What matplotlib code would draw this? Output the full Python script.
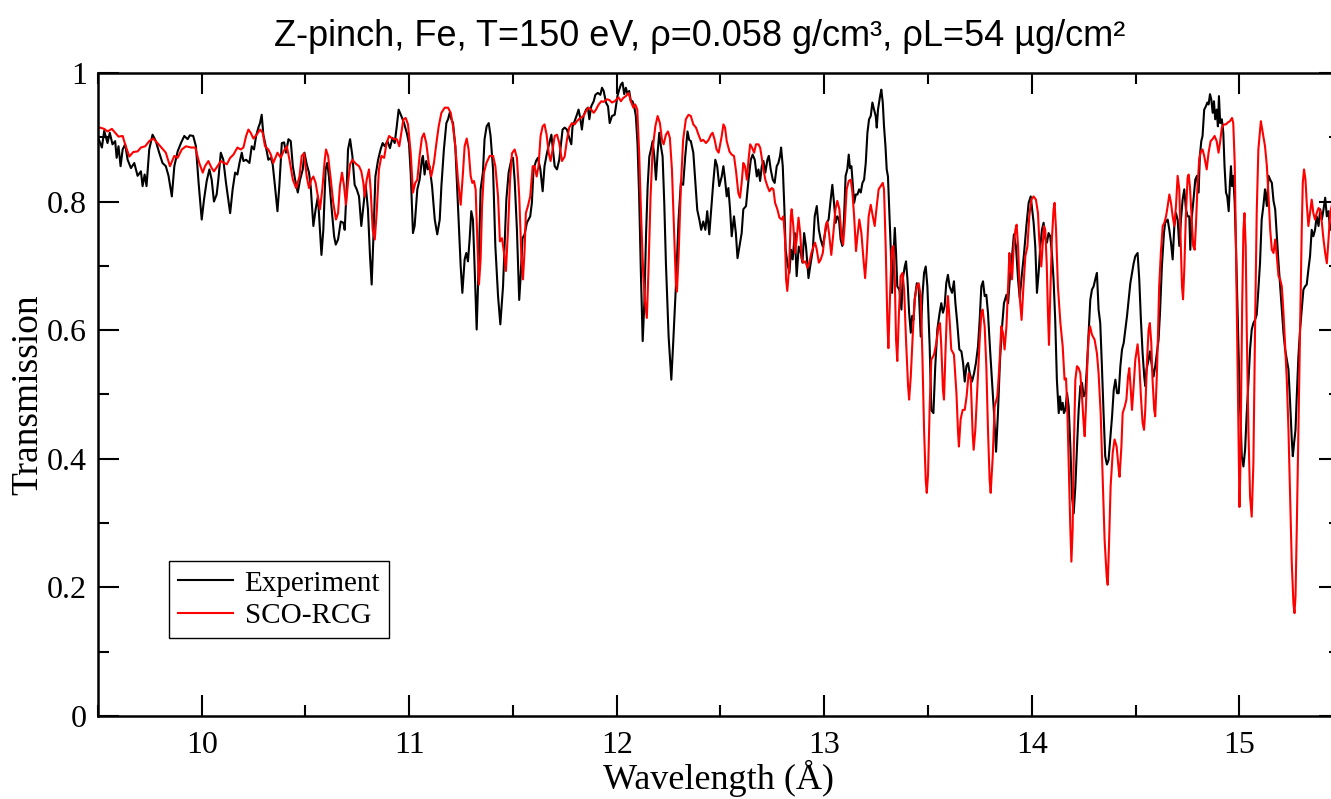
import numpy as np
import matplotlib.pyplot as plt
from matplotlib.ticker import MultipleLocator, FixedLocator, FixedFormatter

# measured transmission, (wavelength in A, transmission)
experiment = [
    (9.500, 0.900), (9.519, 0.884), (9.530, 0.910), (9.546, 0.891), (9.557, 0.907),
    (9.570, 0.889), (9.583, 0.894), (9.590, 0.868), (9.599, 0.886), (9.609, 0.855),
    (9.619, 0.881), (9.631, 0.889), (9.643, 0.865), (9.659, 0.852), (9.675, 0.860),
    (9.691, 0.840), (9.707, 0.847), (9.715, 0.824), (9.725, 0.842), (9.734, 0.824),
    (9.747, 0.881), (9.763, 0.904), (9.779, 0.894), (9.795, 0.876), (9.811, 0.860),
    (9.827, 0.855), (9.840, 0.840), (9.856, 0.808), (9.868, 0.855), (9.884, 0.878),
    (9.900, 0.891), (9.916, 0.902), (9.932, 0.897), (9.943, 0.903), (9.959, 0.902),
    (9.972, 0.886), (9.985, 0.829), (10.000, 0.772), (10.011, 0.803), (10.024, 0.832),
    (10.037, 0.850), (10.048, 0.834), (10.059, 0.800), (10.072, 0.811), (10.080, 0.834),
    (10.092, 0.876), (10.104, 0.865), (10.117, 0.829), (10.137, 0.782), (10.149, 0.819),
    (10.161, 0.845), (10.172, 0.842), (10.182, 0.860), (10.193, 0.876), (10.201, 0.863),
    (10.214, 0.865), (10.230, 0.860), (10.241, 0.886), (10.252, 0.881), (10.262, 0.902),
    (10.273, 0.915), (10.281, 0.922), (10.289, 0.935), (10.297, 0.904), (10.310, 0.884),
    (10.321, 0.865), (10.333, 0.868), (10.342, 0.858), (10.353, 0.824), (10.365, 0.785),
    (10.374, 0.824), (10.386, 0.891), (10.397, 0.892), (10.406, 0.876), (10.418, 0.897),
    (10.429, 0.894), (10.439, 0.855), (10.450, 0.834), (10.463, 0.814), (10.474, 0.834),
    (10.487, 0.850), (10.495, 0.876), (10.506, 0.858), (10.517, 0.845), (10.525, 0.824),
    (10.538, 0.762), (10.549, 0.788), (10.560, 0.808), (10.570, 0.756), (10.577, 0.717),
    (10.586, 0.756), (10.597, 0.850), (10.605, 0.860), (10.613, 0.839), (10.625, 0.793),
    (10.638, 0.746), (10.646, 0.733), (10.657, 0.741), (10.670, 0.769), (10.683, 0.767),
    (10.689, 0.756), (10.699, 0.824), (10.705, 0.881), (10.715, 0.897), (10.726, 0.871),
    (10.737, 0.826), (10.747, 0.819), (10.758, 0.808), (10.769, 0.762), (10.779, 0.793),
    (10.790, 0.826), (10.801, 0.788), (10.811, 0.715), (10.819, 0.671), (10.827, 0.741),
    (10.837, 0.839), (10.850, 0.865), (10.862, 0.881), (10.872, 0.891), (10.882, 0.886),
    (10.895, 0.894), (10.907, 0.883), (10.919, 0.899), (10.930, 0.891), (10.940, 0.917),
    (10.949, 0.943), (10.962, 0.933), (10.975, 0.922), (10.988, 0.907), (10.999, 0.890),
    (11.007, 0.845), (11.018, 0.751), (11.026, 0.762), (11.039, 0.819), (11.050, 0.834),
    (11.061, 0.865), (11.066, 0.871), (11.074, 0.842), (11.082, 0.863), (11.090, 0.850),
    (11.098, 0.855), (11.110, 0.824), (11.123, 0.772), (11.135, 0.749), (11.147, 0.772),
    (11.155, 0.824), (11.167, 0.881), (11.179, 0.922), (11.187, 0.928), (11.195, 0.938),
    (11.203, 0.928), (11.211, 0.922), (11.222, 0.886), (11.235, 0.793), (11.248, 0.699),
    (11.256, 0.658), (11.267, 0.710), (11.275, 0.720), (11.283, 0.707), (11.291, 0.741),
    (11.299, 0.785), (11.307, 0.772), (11.315, 0.699), (11.325, 0.601), (11.335, 0.705),
    (11.344, 0.819), (11.355, 0.845), (11.363, 0.897), (11.373, 0.917), (11.383, 0.922),
    (11.392, 0.902), (11.404, 0.850), (11.415, 0.731), (11.428, 0.653), (11.439, 0.609),
    (11.452, 0.668), (11.468, 0.803), (11.479, 0.845), (11.492, 0.865), (11.500, 0.868),
    (11.508, 0.834), (11.519, 0.756), (11.527, 0.673), (11.530, 0.647), (11.537, 0.684),
    (11.546, 0.743), (11.556, 0.749), (11.567, 0.767), (11.575, 0.772), (11.583, 0.777),
    (11.591, 0.798), (11.599, 0.850), (11.611, 0.863), (11.620, 0.868), (11.632, 0.850),
    (11.643, 0.816), (11.652, 0.855), (11.664, 0.876), (11.675, 0.891), (11.685, 0.904),
    (11.691, 0.886), (11.701, 0.855), (11.712, 0.850), (11.723, 0.865), (11.733, 0.894),
    (11.739, 0.912), (11.749, 0.915), (11.760, 0.912), (11.771, 0.899), (11.781, 0.889),
    (11.787, 0.917), (11.797, 0.925), (11.808, 0.935), (11.816, 0.943), (11.824, 0.930),
    (11.832, 0.912), (11.840, 0.933), (11.852, 0.943), (11.861, 0.946), (11.868, 0.928),
    (11.877, 0.948), (11.889, 0.956), (11.897, 0.966), (11.909, 0.969), (11.921, 0.966),
    (11.929, 0.977), (11.937, 0.972), (11.948, 0.954), (11.958, 0.948), (11.966, 0.922),
    (11.977, 0.933), (11.990, 0.935), (12.004, 0.965), (12.012, 0.974), (12.020, 0.982),
    (12.028, 0.985), (12.036, 0.967), (12.044, 0.977), (12.052, 0.967), (12.060, 0.972),
    (12.068, 0.956), (12.076, 0.956), (12.084, 0.948), (12.092, 0.933), (12.100, 0.891),
    (12.108, 0.808), (12.116, 0.694), (12.125, 0.583), (12.133, 0.642), (12.141, 0.746),
    (12.149, 0.824), (12.157, 0.870), (12.165, 0.881), (12.173, 0.894), (12.181, 0.870),
    (12.189, 0.834), (12.197, 0.876), (12.205, 0.907), (12.213, 0.886), (12.221, 0.870),
    (12.229, 0.798), (12.237, 0.704), (12.250, 0.590), (12.263, 0.523), (12.272, 0.580),
    (12.285, 0.668), (12.298, 0.772), (12.309, 0.829), (12.320, 0.826), (12.330, 0.870),
    (12.341, 0.909), (12.349, 0.896), (12.357, 0.894), (12.369, 0.876), (12.378, 0.834),
    (12.388, 0.787), (12.398, 0.772), (12.407, 0.756), (12.417, 0.769), (12.427, 0.756),
    (12.436, 0.785), (12.446, 0.749), (12.455, 0.787), (12.465, 0.829), (12.475, 0.865),
    (12.484, 0.855), (12.494, 0.824), (12.506, 0.839), (12.514, 0.855), (12.522, 0.834),
    (12.530, 0.808), (12.538, 0.821), (12.546, 0.788), (12.554, 0.746), (12.565, 0.777),
    (12.574, 0.751), (12.582, 0.712), (12.591, 0.730), (12.602, 0.751), (12.610, 0.788),
    (12.623, 0.793), (12.635, 0.834), (12.646, 0.865), (12.655, 0.873), (12.665, 0.865),
    (12.675, 0.839), (12.683, 0.850), (12.691, 0.832), (12.699, 0.855), (12.707, 0.863),
    (12.716, 0.845), (12.726, 0.865), (12.733, 0.871), (12.742, 0.850), (12.752, 0.834),
    (12.761, 0.829), (12.771, 0.855), (12.779, 0.860), (12.787, 0.871), (12.792, 0.884),
    (12.800, 0.855), (12.808, 0.788), (12.814, 0.725), (12.822, 0.705), (12.832, 0.689),
    (12.840, 0.725), (12.848, 0.710), (12.858, 0.751), (12.867, 0.684), (12.877, 0.730),
    (12.887, 0.720), (12.895, 0.705), (12.903, 0.751), (12.912, 0.730), (12.924, 0.681),
    (12.935, 0.705), (12.945, 0.725), (12.954, 0.777), (12.964, 0.793), (12.974, 0.756),
    (12.983, 0.741), (12.993, 0.730), (13.012, 0.767), (13.021, 0.772), (13.031, 0.803),
    (13.039, 0.826), (13.047, 0.798), (13.055, 0.767), (13.063, 0.777), (13.071, 0.772),
    (13.079, 0.741), (13.087, 0.731), (13.095, 0.772), (13.103, 0.840), (13.111, 0.850),
    (13.118, 0.873), (13.124, 0.852), (13.131, 0.855), (13.137, 0.829), (13.144, 0.798),
    (13.152, 0.811), (13.160, 0.811), (13.168, 0.819), (13.176, 0.814), (13.184, 0.829),
    (13.192, 0.834), (13.200, 0.860), (13.208, 0.907), (13.216, 0.928), (13.224, 0.933),
    (13.232, 0.954), (13.240, 0.943), (13.248, 0.933), (13.253, 0.915), (13.259, 0.943),
    (13.269, 0.964), (13.275, 0.974), (13.282, 0.954), (13.288, 0.917), (13.295, 0.886),
    (13.301, 0.850), (13.307, 0.839), (13.314, 0.782), (13.320, 0.731), (13.327, 0.658),
    (13.333, 0.710), (13.340, 0.759), (13.346, 0.720), (13.352, 0.668), (13.362, 0.663),
    (13.372, 0.632), (13.378, 0.679), (13.388, 0.699), (13.394, 0.707), (13.401, 0.679),
    (13.409, 0.627), (13.417, 0.596), (13.423, 0.622), (13.430, 0.616), (13.436, 0.648),
    (13.446, 0.673), (13.455, 0.668), (13.465, 0.590), (13.473, 0.653), (13.481, 0.689),
    (13.489, 0.699), (13.497, 0.668), (13.508, 0.575), (13.516, 0.476), (13.526, 0.471),
    (13.535, 0.544), (13.545, 0.601), (13.556, 0.627), (13.564, 0.642), (13.572, 0.627),
    (13.580, 0.637), (13.588, 0.673), (13.596, 0.686), (13.604, 0.668), (13.616, 0.658),
    (13.625, 0.676), (13.632, 0.642), (13.641, 0.611), (13.651, 0.570), (13.661, 0.567),
    (13.669, 0.549), (13.677, 0.520), (13.685, 0.544), (13.693, 0.549), (13.701, 0.533),
    (13.712, 0.520), (13.722, 0.533), (13.731, 0.549), (13.741, 0.575), (13.749, 0.616),
    (13.757, 0.668), (13.765, 0.676), (13.773, 0.653), (13.781, 0.655), (13.789, 0.627),
    (13.799, 0.570), (13.808, 0.523), (13.818, 0.471), (13.828, 0.411), (13.837, 0.471),
    (13.847, 0.554), (13.857, 0.606), (13.866, 0.642), (13.878, 0.655), (13.886, 0.642),
    (13.895, 0.684), (13.905, 0.715), (13.914, 0.749), (13.924, 0.730), (13.934, 0.679),
    (13.942, 0.650), (13.950, 0.679), (13.963, 0.720), (13.974, 0.762), (13.985, 0.798),
    (13.995, 0.808), (14.009, 0.767), (14.017, 0.730), (14.025, 0.658), (14.033, 0.689),
    (14.041, 0.730), (14.049, 0.756), (14.057, 0.767), (14.065, 0.743), (14.073, 0.736),
    (14.081, 0.751), (14.089, 0.746), (14.097, 0.720), (14.105, 0.679), (14.113, 0.616),
    (14.121, 0.523), (14.130, 0.471), (14.136, 0.497), (14.142, 0.476), (14.149, 0.487),
    (14.155, 0.471), (14.162, 0.476), (14.170, 0.502), (14.178, 0.481), (14.186, 0.419),
    (14.194, 0.341), (14.202, 0.315), (14.210, 0.357), (14.218, 0.419), (14.226, 0.476),
    (14.234, 0.513), (14.242, 0.518), (14.250, 0.497), (14.258, 0.502), (14.266, 0.544),
    (14.274, 0.596), (14.282, 0.647), (14.290, 0.663), (14.298, 0.668), (14.306, 0.679),
    (14.314, 0.689), (14.322, 0.632), (14.330, 0.611), (14.338, 0.544), (14.346, 0.471),
    (14.354, 0.404), (14.362, 0.391), (14.370, 0.398), (14.378, 0.430), (14.387, 0.466),
    (14.395, 0.507), (14.403, 0.523), (14.411, 0.502), (14.419, 0.502), (14.427, 0.544),
    (14.435, 0.570), (14.443, 0.580), (14.451, 0.601), (14.459, 0.622), (14.467, 0.647),
    (14.475, 0.673), (14.483, 0.689), (14.491, 0.704), (14.499, 0.715), (14.510, 0.720),
    (14.518, 0.679), (14.526, 0.616), (14.534, 0.565), (14.542, 0.528), (14.547, 0.513),
    (14.553, 0.539), (14.563, 0.554), (14.569, 0.567), (14.579, 0.544), (14.587, 0.528),
    (14.595, 0.544), (14.603, 0.565), (14.611, 0.585), (14.618, 0.627), (14.627, 0.699),
    (14.637, 0.751), (14.643, 0.767), (14.655, 0.772), (14.663, 0.756), (14.671, 0.736),
    (14.679, 0.710), (14.687, 0.762), (14.695, 0.782), (14.703, 0.772), (14.711, 0.731),
    (14.719, 0.772), (14.727, 0.803), (14.735, 0.819), (14.743, 0.788), (14.751, 0.777),
    (14.759, 0.777), (14.764, 0.725), (14.770, 0.772), (14.778, 0.798), (14.788, 0.834),
    (14.796, 0.840), (14.804, 0.814), (14.810, 0.871), (14.817, 0.894), (14.823, 0.902),
    (14.831, 0.943), (14.839, 0.948), (14.846, 0.954), (14.852, 0.951), (14.859, 0.967),
    (14.865, 0.959), (14.872, 0.938), (14.878, 0.956), (14.884, 0.928), (14.891, 0.943),
    (14.897, 0.917), (14.902, 0.964), (14.908, 0.922), (14.916, 0.928), (14.923, 0.907),
    (14.929, 0.855), (14.936, 0.814), (14.942, 0.808), (14.949, 0.785), (14.955, 0.829),
    (14.960, 0.855), (14.965, 0.824), (14.971, 0.840), (14.978, 0.798), (14.984, 0.731),
    (14.992, 0.627), (15.000, 0.523), (15.012, 0.404), (15.020, 0.388), (15.028, 0.414),
    (15.036, 0.471), (15.044, 0.518), (15.052, 0.570), (15.060, 0.601), (15.068, 0.611),
    (15.076, 0.616), (15.084, 0.624), (15.092, 0.663), (15.100, 0.705), (15.108, 0.772),
    (15.116, 0.793), (15.124, 0.819), (15.133, 0.793), (15.141, 0.840), (15.149, 0.834),
    (15.157, 0.829), (15.165, 0.801), (15.173, 0.788), (15.181, 0.746), (15.189, 0.705),
    (15.197, 0.668), (15.205, 0.632), (15.213, 0.596), (15.221, 0.570), (15.229, 0.554),
    (15.237, 0.539), (15.245, 0.487), (15.253, 0.430), (15.258, 0.404), (15.264, 0.424),
    (15.271, 0.445), (15.277, 0.497), (15.285, 0.559), (15.293, 0.601), (15.301, 0.632),
    (15.309, 0.663), (15.317, 0.668), (15.325, 0.671), (15.333, 0.694), (15.341, 0.715),
    (15.349, 0.756), (15.357, 0.746), (15.365, 0.756), (15.373, 0.777), (15.382, 0.762),
    (15.390, 0.788), (15.398, 0.772), (15.406, 0.788), (15.414, 0.806), (15.422, 0.777),
    (15.430, 0.785), (15.438, 0.756), (15.450, 0.770),
]

# SCO-RCG calculation, (wavelength in A, transmission)
sco_rcg = [
    (9.500, 0.916), (9.530, 0.913), (9.546, 0.909), (9.567, 0.913), (9.583, 0.907),
    (9.599, 0.901), (9.619, 0.902), (9.631, 0.889), (9.651, 0.870), (9.670, 0.877),
    (9.691, 0.878), (9.707, 0.884), (9.728, 0.886), (9.747, 0.894), (9.766, 0.898),
    (9.787, 0.891), (9.811, 0.882), (9.827, 0.876), (9.847, 0.855), (9.868, 0.871),
    (9.884, 0.868), (9.904, 0.881), (9.924, 0.886), (9.948, 0.884), (9.969, 0.884),
    (9.988, 0.860), (10.005, 0.845), (10.016, 0.855), (10.032, 0.863), (10.048, 0.852),
    (10.059, 0.847), (10.076, 0.855), (10.092, 0.863), (10.108, 0.860), (10.121, 0.858),
    (10.137, 0.868), (10.153, 0.873), (10.172, 0.884), (10.188, 0.881), (10.201, 0.884),
    (10.214, 0.902), (10.225, 0.912), (10.236, 0.907), (10.249, 0.898), (10.265, 0.904),
    (10.281, 0.912), (10.294, 0.907), (10.305, 0.886), (10.321, 0.881), (10.333, 0.873),
    (10.345, 0.860), (10.365, 0.876), (10.381, 0.868), (10.394, 0.878), (10.410, 0.886),
    (10.423, 0.865), (10.439, 0.834), (10.455, 0.821), (10.471, 0.839), (10.482, 0.871),
    (10.493, 0.875), (10.506, 0.839), (10.517, 0.821), (10.528, 0.834), (10.538, 0.839),
    (10.549, 0.829), (10.560, 0.808), (10.570, 0.788), (10.581, 0.819), (10.593, 0.865),
    (10.599, 0.881), (10.609, 0.871), (10.622, 0.834), (10.634, 0.798), (10.647, 0.772),
    (10.657, 0.782), (10.666, 0.824), (10.676, 0.845), (10.686, 0.824), (10.695, 0.795),
    (10.705, 0.829), (10.715, 0.858), (10.726, 0.865), (10.742, 0.859), (10.758, 0.855),
    (10.769, 0.847), (10.779, 0.829), (10.785, 0.808), (10.795, 0.834), (10.806, 0.850),
    (10.814, 0.819), (10.824, 0.756), (10.834, 0.741), (10.843, 0.782), (10.854, 0.850),
    (10.866, 0.871), (10.879, 0.868), (10.891, 0.891), (10.903, 0.902), (10.914, 0.899),
    (10.927, 0.897), (10.940, 0.897), (10.952, 0.886), (10.962, 0.907), (10.972, 0.928),
    (10.983, 0.930), (10.994, 0.920), (11.007, 0.876), (11.018, 0.814), (11.029, 0.829),
    (11.039, 0.834), (11.050, 0.871), (11.061, 0.899), (11.071, 0.906), (11.082, 0.891),
    (11.094, 0.860), (11.106, 0.839), (11.119, 0.860), (11.131, 0.891), (11.142, 0.917),
    (11.155, 0.938), (11.171, 0.946), (11.187, 0.946), (11.200, 0.938), (11.211, 0.917),
    (11.222, 0.886), (11.235, 0.834), (11.248, 0.795), (11.259, 0.845), (11.267, 0.886),
    (11.277, 0.898), (11.286, 0.881), (11.296, 0.840), (11.304, 0.829), (11.312, 0.832),
    (11.320, 0.819), (11.328, 0.741), (11.336, 0.671), (11.344, 0.710), (11.351, 0.793),
    (11.360, 0.845), (11.372, 0.860), (11.388, 0.871), (11.404, 0.871), (11.415, 0.855),
    (11.428, 0.808), (11.437, 0.738), (11.447, 0.743), (11.457, 0.720), (11.466, 0.692),
    (11.476, 0.756), (11.486, 0.834), (11.495, 0.875), (11.508, 0.881), (11.519, 0.868),
    (11.530, 0.808), (11.540, 0.720), (11.548, 0.679), (11.556, 0.725), (11.562, 0.782),
    (11.572, 0.793), (11.583, 0.808), (11.595, 0.855), (11.604, 0.855), (11.614, 0.839),
    (11.623, 0.855), (11.633, 0.902), (11.643, 0.917), (11.652, 0.920), (11.662, 0.904),
    (11.672, 0.876), (11.681, 0.863), (11.691, 0.881), (11.701, 0.902), (11.712, 0.904),
    (11.723, 0.891), (11.736, 0.863), (11.749, 0.870), (11.760, 0.896), (11.771, 0.915),
    (11.784, 0.922), (11.797, 0.920), (11.808, 0.925), (11.824, 0.930), (11.840, 0.933),
    (11.852, 0.941), (11.864, 0.946), (11.877, 0.943), (11.889, 0.938), (11.900, 0.943),
    (11.913, 0.951), (11.926, 0.956), (11.937, 0.955), (11.953, 0.959), (11.964, 0.958),
    (11.977, 0.954), (11.990, 0.956), (12.009, 0.962), (12.020, 0.956), (12.031, 0.961),
    (12.044, 0.964), (12.057, 0.969), (12.068, 0.956), (12.080, 0.946), (12.089, 0.951),
    (12.099, 0.943), (12.108, 0.876), (12.118, 0.772), (12.128, 0.684), (12.137, 0.642),
    (12.145, 0.619), (12.153, 0.694), (12.163, 0.808), (12.173, 0.881), (12.186, 0.917),
    (12.197, 0.933), (12.208, 0.922), (12.218, 0.896), (12.226, 0.889), (12.237, 0.904),
    (12.247, 0.909), (12.256, 0.899), (12.266, 0.850), (12.277, 0.746), (12.285, 0.673),
    (12.290, 0.660), (12.298, 0.715), (12.309, 0.824), (12.320, 0.896), (12.333, 0.928),
    (12.346, 0.935), (12.357, 0.933), (12.369, 0.920), (12.382, 0.915), (12.394, 0.904),
    (12.406, 0.894), (12.417, 0.896), (12.430, 0.891), (12.443, 0.896), (12.454, 0.904),
    (12.462, 0.907), (12.472, 0.896), (12.481, 0.881), (12.491, 0.876), (12.506, 0.902),
    (12.514, 0.920), (12.522, 0.915), (12.530, 0.894), (12.543, 0.878), (12.554, 0.873),
    (12.565, 0.871), (12.575, 0.847), (12.586, 0.813), (12.594, 0.806), (12.602, 0.829),
    (12.610, 0.860), (12.618, 0.855), (12.627, 0.834), (12.635, 0.865), (12.643, 0.889),
    (12.652, 0.884), (12.662, 0.876), (12.671, 0.889), (12.683, 0.889), (12.691, 0.884),
    (12.699, 0.868), (12.707, 0.850), (12.716, 0.834), (12.726, 0.824), (12.736, 0.816),
    (12.747, 0.821), (12.755, 0.819), (12.763, 0.798), (12.774, 0.788), (12.784, 0.775),
    (12.795, 0.772), (12.803, 0.777), (12.811, 0.741), (12.816, 0.679), (12.822, 0.661),
    (12.831, 0.699), (12.839, 0.777), (12.843, 0.788), (12.851, 0.762), (12.859, 0.720),
    (12.867, 0.741), (12.876, 0.775), (12.884, 0.751), (12.892, 0.710), (12.900, 0.705),
    (12.909, 0.707), (12.919, 0.697), (12.928, 0.705), (12.938, 0.720), (12.948, 0.730),
    (12.956, 0.736), (12.964, 0.725), (12.974, 0.705), (12.983, 0.710), (12.993, 0.720),
    (13.007, 0.762), (13.015, 0.769), (13.023, 0.751), (13.034, 0.717), (13.044, 0.751),
    (13.054, 0.788), (13.063, 0.801), (13.073, 0.788), (13.083, 0.746), (13.091, 0.733),
    (13.099, 0.767), (13.108, 0.819), (13.118, 0.832), (13.128, 0.834), (13.136, 0.813),
    (13.144, 0.777), (13.153, 0.723), (13.160, 0.746), (13.169, 0.772), (13.179, 0.751),
    (13.189, 0.710), (13.197, 0.681), (13.205, 0.720), (13.214, 0.777), (13.224, 0.795),
    (13.234, 0.777), (13.243, 0.762), (13.253, 0.793), (13.262, 0.819), (13.272, 0.824),
    (13.282, 0.829), (13.288, 0.819), (13.296, 0.731), (13.304, 0.616), (13.309, 0.572),
    (13.317, 0.653), (13.325, 0.725), (13.333, 0.731), (13.340, 0.679), (13.346, 0.585),
    (13.352, 0.552), (13.360, 0.627), (13.368, 0.684), (13.377, 0.689), (13.385, 0.663),
    (13.394, 0.585), (13.404, 0.513), (13.409, 0.492), (13.417, 0.528), (13.426, 0.590),
    (13.436, 0.648), (13.446, 0.668), (13.455, 0.673), (13.465, 0.653), (13.473, 0.559),
    (13.481, 0.445), (13.489, 0.367), (13.494, 0.347), (13.500, 0.375), (13.508, 0.480),
    (13.516, 0.554), (13.529, 0.562), (13.540, 0.580), (13.551, 0.606), (13.558, 0.611),
    (13.564, 0.575), (13.572, 0.507), (13.577, 0.492), (13.584, 0.564), (13.592, 0.637),
    (13.596, 0.653), (13.604, 0.616), (13.612, 0.570), (13.625, 0.562), (13.637, 0.502),
    (13.645, 0.440), (13.649, 0.419), (13.657, 0.461), (13.667, 0.476), (13.677, 0.476),
    (13.686, 0.497), (13.696, 0.533), (13.706, 0.523), (13.715, 0.440), (13.720, 0.414),
    (13.728, 0.445), (13.738, 0.513), (13.749, 0.585), (13.757, 0.627), (13.763, 0.632),
    (13.773, 0.606), (13.781, 0.544), (13.789, 0.445), (13.797, 0.367), (13.802, 0.347),
    (13.812, 0.404), (13.821, 0.481), (13.834, 0.497), (13.844, 0.544), (13.853, 0.606),
    (13.861, 0.596), (13.869, 0.570), (13.878, 0.606), (13.886, 0.668), (13.892, 0.720),
    (13.898, 0.699), (13.905, 0.679), (13.913, 0.730), (13.921, 0.756), (13.927, 0.764),
    (13.934, 0.730), (13.943, 0.647), (13.951, 0.616), (13.959, 0.663), (13.969, 0.715),
    (13.979, 0.730), (13.988, 0.777), (13.998, 0.803), (14.009, 0.808), (14.020, 0.803),
    (14.030, 0.782), (14.036, 0.741), (14.046, 0.699), (14.052, 0.730), (14.059, 0.762),
    (14.065, 0.756), (14.072, 0.704), (14.078, 0.627), (14.083, 0.577), (14.089, 0.653),
    (14.097, 0.741), (14.105, 0.788), (14.110, 0.798), (14.117, 0.756), (14.126, 0.668),
    (14.138, 0.611), (14.149, 0.575), (14.158, 0.523), (14.165, 0.525), (14.171, 0.481),
    (14.178, 0.393), (14.186, 0.290), (14.191, 0.240), (14.197, 0.290), (14.203, 0.419),
    (14.210, 0.523), (14.218, 0.544), (14.226, 0.541), (14.234, 0.533), (14.242, 0.497),
    (14.250, 0.455), (14.255, 0.435), (14.261, 0.481), (14.268, 0.549), (14.274, 0.590),
    (14.281, 0.606), (14.290, 0.593), (14.303, 0.585), (14.314, 0.564), (14.322, 0.533),
    (14.332, 0.471), (14.342, 0.367), (14.351, 0.274), (14.361, 0.217), (14.366, 0.204),
    (14.372, 0.264), (14.380, 0.357), (14.390, 0.409), (14.399, 0.430), (14.409, 0.419),
    (14.419, 0.383), (14.423, 0.372), (14.432, 0.419), (14.438, 0.471), (14.448, 0.481),
    (14.456, 0.492), (14.464, 0.528), (14.470, 0.541), (14.476, 0.513), (14.483, 0.476),
    (14.491, 0.513), (14.499, 0.554), (14.510, 0.578), (14.518, 0.549), (14.526, 0.497),
    (14.534, 0.456), (14.541, 0.445), (14.547, 0.476), (14.555, 0.549), (14.563, 0.601),
    (14.569, 0.611), (14.576, 0.580), (14.582, 0.523), (14.590, 0.476), (14.595, 0.466),
    (14.602, 0.523), (14.608, 0.590), (14.614, 0.668), (14.622, 0.720), (14.631, 0.762),
    (14.639, 0.767), (14.647, 0.777), (14.655, 0.793), (14.663, 0.811), (14.671, 0.798),
    (14.679, 0.777), (14.687, 0.762), (14.695, 0.793), (14.703, 0.840), (14.711, 0.819),
    (14.717, 0.746), (14.724, 0.668), (14.729, 0.648), (14.735, 0.694), (14.743, 0.782),
    (14.751, 0.837), (14.756, 0.842), (14.762, 0.824), (14.769, 0.782), (14.778, 0.731),
    (14.785, 0.725), (14.791, 0.762), (14.798, 0.819), (14.807, 0.866), (14.815, 0.878),
    (14.823, 0.881), (14.831, 0.871), (14.843, 0.850), (14.852, 0.876), (14.862, 0.894),
    (14.871, 0.897), (14.881, 0.902), (14.891, 0.894), (14.900, 0.876), (14.907, 0.891),
    (14.916, 0.915), (14.926, 0.920), (14.936, 0.920), (14.945, 0.923), (14.955, 0.925),
    (14.965, 0.930), (14.971, 0.922), (14.978, 0.860), (14.984, 0.731), (14.990, 0.585),
    (14.995, 0.471), (15.001, 0.325), (15.006, 0.395), (15.009, 0.497), (15.014, 0.640),
    (15.020, 0.756), (15.025, 0.782), (15.031, 0.730), (15.036, 0.601), (15.044, 0.445),
    (15.052, 0.341), (15.060, 0.310), (15.068, 0.393), (15.076, 0.601), (15.084, 0.782),
    (15.092, 0.881), (15.104, 0.925), (15.113, 0.907), (15.124, 0.886), (15.133, 0.855),
    (15.141, 0.808), (15.149, 0.756), (15.157, 0.725), (15.165, 0.720), (15.173, 0.741),
    (15.181, 0.715), (15.189, 0.684), (15.197, 0.679), (15.205, 0.668), (15.213, 0.627),
    (15.221, 0.575), (15.229, 0.523), (15.237, 0.445), (15.245, 0.342), (15.253, 0.238),
    (15.261, 0.175), (15.266, 0.160), (15.271, 0.186), (15.277, 0.290), (15.285, 0.445),
    (15.293, 0.601), (15.301, 0.756), (15.306, 0.829), (15.312, 0.850), (15.319, 0.834),
    (15.325, 0.798), (15.333, 0.762), (15.341, 0.782), (15.349, 0.803), (15.357, 0.782),
    (15.365, 0.772), (15.373, 0.782), (15.382, 0.790), (15.390, 0.785), (15.398, 0.767),
    (15.406, 0.741), (15.414, 0.720), (15.422, 0.704), (15.430, 0.741), (15.438, 0.782),
    (15.450, 0.800),
]

x_ticks = [10, 11, 12, 13, 14, 15]
y_ticks = [0, 0.2, 0.4, 0.6, 0.8, 1]
y_tick_labels = ['0', '0.2', '0.4', '0.6', '0.8', '1']

title = 'Z-pinch, Fe, T=150 eV, \u03c1=0.058 g/cm\u00b3, \u03c1L=54 \u00b5g/cm\u00b2'


def main() -> None:
    plt.rcParams['font.family'] = ['Liberation Serif', 'DejaVu Serif']

    exp_wl, exp_tr = np.array(experiment).T
    sco_wl, sco_tr = np.array(sco_rcg).T

    fig = plt.figure(figsize=(13.31, 7.99), dpi=100)
    # right spine sits just past the edge of the canvas
    ax = fig.add_axes([0.0736, 0.1039, 0.9331, 0.8048])

    ax.plot(exp_wl, exp_tr, color='black', linewidth=1.5, label='Experiment')
    ax.plot(sco_wl, sco_tr, color='#ff0000', linewidth=1.5, label='SCO-RCG')

    ax.set_xlim(9.5, 15.485)
    ax.set_ylim(0, 1)

    ax.xaxis.set_major_locator(FixedLocator(x_ticks))
    ax.xaxis.set_minor_locator(MultipleLocator(0.5))
    ax.yaxis.set_major_locator(FixedLocator(y_ticks))
    ax.yaxis.set_major_formatter(FixedFormatter(y_tick_labels))
    ax.yaxis.set_minor_locator(MultipleLocator(0.1))

    ax.tick_params(which='both', direction='in', top=True, right=True, labelsize=23)
    ax.tick_params(axis='x', which='both', pad=11)
    ax.tick_params(axis='y', which='both', pad=8)
    ax.tick_params(which='major', length=15, width=1.5)
    ax.tick_params(which='minor', length=8, width=1.5)
    for spine in ax.spines.values():
        spine.set_linewidth(1.8)

    ax.set_xlabel('Wavelength (\u00c5)', fontsize=26, labelpad=0)
    ax.set_ylabel('Transmission', fontsize=27, labelpad=1)

    fig.text(0.526, 0.9424, title, ha='center', va='baseline', fontsize=26,
             family=['Liberation Sans', 'DejaVu Sans'])

    leg = ax.legend(loc='lower left', bbox_to_anchor=(0.057, 0.122), fontsize=21,
                    fancybox=False, framealpha=1, edgecolor='black', borderpad=0.3,
                    handlelength=1.9, handletextpad=0.4, labelspacing=0.2, borderaxespad=0)
    leg.get_frame().set_linewidth(1.0)

    fig.savefig('out.png', dpi=100)


if __name__ == '__main__':
    main()
